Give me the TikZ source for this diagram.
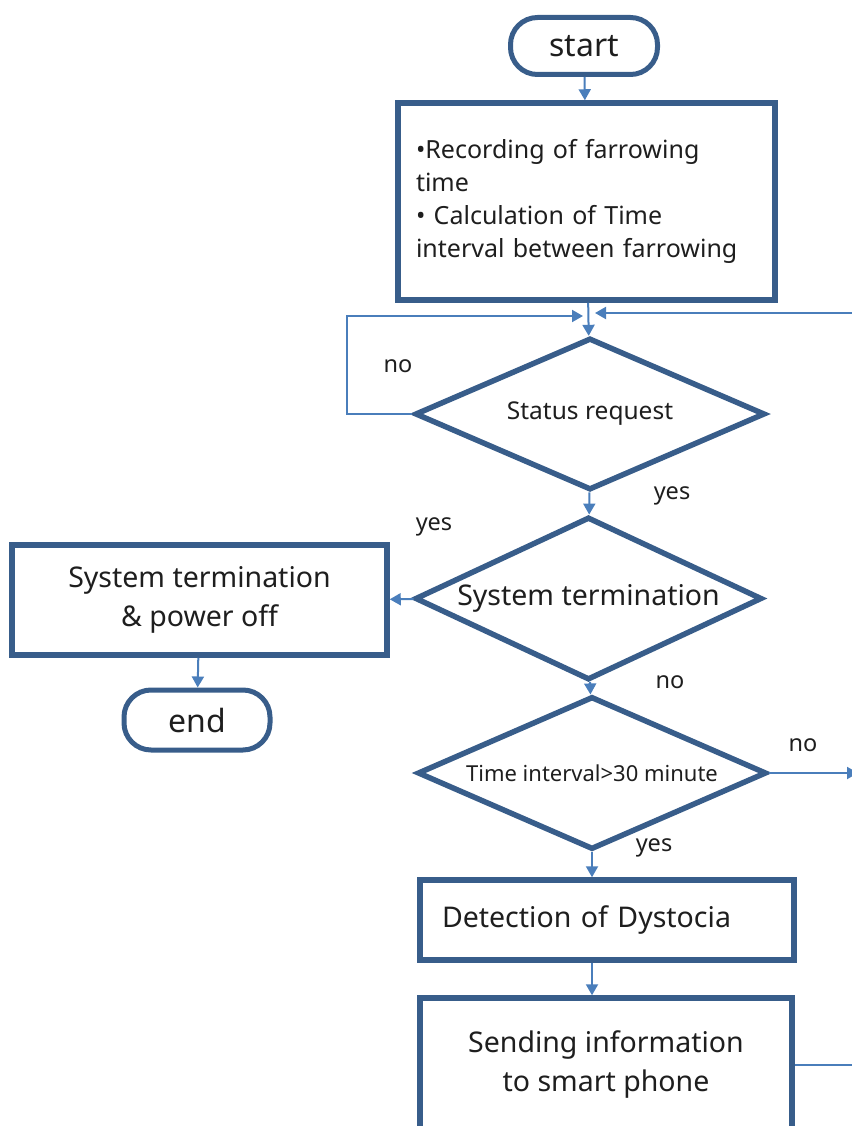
\documentclass[tikz,border=0pt]{standalone}
\usepackage{fontspec}
\setmainfont{Noto Sans}
\usepackage{tikz}
\usetikzlibrary{arrows.meta,shapes.geometric}
\definecolor{frame}{RGB}{56,93,138}
\definecolor{wire}{RGB}{74,126,187}
\definecolor{ink}{RGB}{30,30,30}

\begin{document}
\begin{tikzpicture}[x=1pt,y=-1pt,
    term/.style={rectangle,rounded corners=27pt,draw=frame,line width=5pt,text=ink,font=\fontsize{32}{34}\selectfont,inner sep=0pt},
    proc/.style={rectangle,draw=frame,line width=5.5pt,text=ink,font=\fontsize{28.5}{39}\selectfont,inner sep=0pt,align=center},
    test/.style={diamond,draw=frame,line width=5.5pt,text=ink,inner sep=0pt,aspect=2.3},
    lbl/.style={text=ink,font=\fontsize{23.5}{26}\selectfont,inner sep=0pt},
    ln/.style={draw=wire,line width=2pt},
    arr/.style={ln,-{Triangle[length=11pt,width=12pt]}}]
   \useasboundingbox (0,0) rectangle (851,1126);
   \node[term,minimum width=147pt,minimum height=57pt] (start) at (584,46) {start};
   \node[proc,minimum width=377pt,minimum height=197pt,text width=341pt,align=left,font=\fontsize{25}{33}\selectfont] (rec) at (586.5,201.5)
      {•Recording of farrowing\\time\\• Calculation of Time\\interval between farrowing};
   \node[test,minimum width=350pt,minimum height=152pt,font=\fontsize{24.5}{28}\selectfont] (ask) at (590,414) {Status request};
   \node[test,minimum width=347pt,minimum height=163pt,font=\fontsize{28.5}{32}\selectfont] (stop) at (588.5,598.5) {System termination};
   \node[test,minimum width=349pt,minimum height=153pt,font=\fontsize{22}{26}\selectfont] (wait) at (592,773) {Time interval>30 minute};
   \node[proc,minimum width=375pt,minimum height=110pt] (halt) at (199.5,600) {System termination\\\& power off};
   \node[term,minimum width=146pt,minimum height=60pt] (end) at (197,720) {end};
   \node[proc,minimum width=374pt,minimum height=80pt,text width=330pt,align=left] (dyst) at (607,920) {Detection of Dystocia};
   \node[proc,minimum width=372pt,minimum height=134pt] (send) at (606,1065) {Sending information\\to smart phone};
   \node[lbl] (no1) at (398,366) {no};
   \node[lbl] (yes1) at (672,496) {yes};
   \node[lbl] (yes2) at (434,527) {yes};
   \node[lbl] (no2) at (670,682) {no};
   \node[lbl] (no3) at (803,745) {no};
   \node[lbl] (yes3) at (654,848) {yes};
   \coordinate (mrgL) at (583,316);
   \coordinate (mrgR) at (595,313);
   \coordinate (rail) at (858,0);
   \draw[arr] (start)--(rec); \draw[arr] (rec)--(ask);
   \draw[arr] (ask.west)--++(-65,0)|-(mrgL);
   \draw[arr] (ask)--(stop); \draw[arr] (stop)--(halt); \draw[arr] (halt)--(end);
   \draw[arr] (stop)--(wait);
   \draw[arr] (wait.east)--(wait.east-|rail);
   \draw[arr] (wait.south)--(wait.south|-dyst.north);
   \draw[arr] (dyst.south-|wait.south)--(send.north-|wait.south);
   \draw[arr] (send.east)--(send.east-|rail)|-(mrgR);
  \end{tikzpicture}
\end{document}
